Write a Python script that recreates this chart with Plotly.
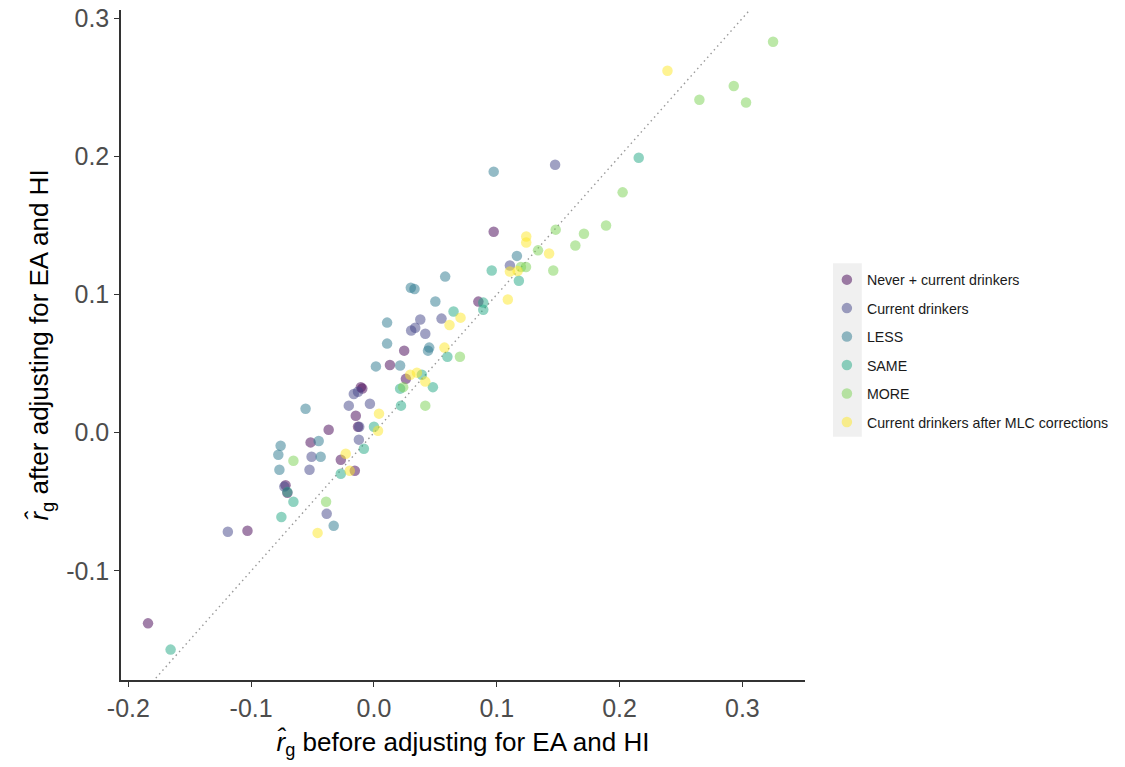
import plotly.graph_objects as go

categories = ["Never + current drinkers", "Current drinkers", "LESS", "SAME", "MORE",
              "Current drinkers after MLC corrections"]
colors = ["#440154", "#414487", "#2A788E", "#22A884", "#7AD151", "#FDE725"]

never_x = [-0.184, -0.103, -0.072, -0.0705, -0.027, -0.0156, -0.0516, -0.0369, -0.013, -0.0148,
           -0.0107, -0.0095, 0.026, 0.013, 0.0246, 0.085, 0.0975]
never_y = [-0.138, -0.071, -0.038, -0.0435, -0.0196, -0.0275, -0.007, 0.0022, 0.0043, 0.0123,
           0.033, 0.032, 0.039, 0.049, 0.0594, 0.0949, 0.1455]

current_x = [-0.119, -0.0385, -0.073, -0.0525, -0.0508, -0.0123, -0.012, -0.0205, -0.0033, -0.0164,
             -0.013, 0.0303, 0.0336, 0.0418, 0.0377, 0.055, 0.1107, 0.1475]
current_y = [-0.0717, -0.0587, -0.039, -0.0268, -0.0174, -0.005, 0.0043, 0.0196, 0.021, 0.028,
             0.0297, 0.074, 0.076, 0.0717, 0.0819, 0.0826, 0.121, 0.194]

less_x = [-0.077, -0.0779, -0.076, -0.0434, -0.045, -0.0328, -0.0557, 0.0016, 0.0213, 0.0107,
          0.0107, 0.030, 0.033, 0.050, 0.045, 0.044, 0.058, 0.0975, 0.1164]
less_y = [-0.0268, -0.016, -0.0094, -0.0174, -0.006, -0.0674, 0.0174, 0.048, 0.0486, 0.0645,
          0.0797, 0.105, 0.104, 0.095, 0.0616, 0.0594, 0.113, 0.189, 0.128]

same_x = [-0.1656, -0.0754, -0.0656, -0.0705, -0.027, -0.0082, 0.0, 0.022, 0.0213, 0.039,
          0.048, 0.0598, 0.0648, 0.089, 0.089, 0.0959, 0.118, 0.2156]
same_y = [-0.157, -0.061, -0.05, -0.043, -0.0297, -0.0116, 0.0043, 0.0196, 0.0319, 0.042,
          0.033, 0.055, 0.0877, 0.0942, 0.089, 0.1174, 0.110, 0.199]

more_x = [-0.0656, -0.039, 0.0238, 0.0418, 0.070, 0.1197, 0.1238, 0.1336, 0.146, 0.148,
          0.164, 0.171, 0.189, 0.2025, 0.265, 0.293, 0.303, 0.325]
more_y = [-0.0203, -0.05, 0.033, 0.0196, 0.055, 0.120, 0.120, 0.132, 0.1174, 0.147,
          0.1355, 0.144, 0.150, 0.174, 0.241, 0.251, 0.239, 0.283]

mlc_x = [-0.0459, -0.0197, -0.023, 0.0033, 0.0041, 0.0295, 0.035, 0.0418, 0.0574, 0.0615,
         0.0705, 0.109, 0.1107, 0.117, 0.1426, 0.124, 0.124, 0.239]
mlc_y = [-0.0725, -0.0275, -0.0152, 0.0014, 0.0138, 0.042, 0.0435, 0.037, 0.0616, 0.078,
         0.0833, 0.0964, 0.1167, 0.117, 0.1297, 0.142, 0.1377, 0.262]

xs = [never_x, current_x, less_x, same_x, more_x, mlc_x]
ys = [never_y, current_y, less_y, same_y, more_y, mlc_y]

tick_vals_x = [-0.2, -0.1, 0.0, 0.1, 0.2, 0.3]
tick_text_x = ["-0.2", "-0.1", "0.0", "0.1", "0.2", "0.3"]
tick_vals_y = [-0.1, 0.0, 0.1, 0.2, 0.3]
tick_text_y = ["-0.1", "0.0", "0.1", "0.2", "0.3"]
identity = [-1.0, 1.0]

FONT = "Liberation Sans, Arial, sans-serif"

fig = go.Figure()
fig.add_trace(go.Scatter(x=identity, y=identity, mode="lines",
                         line=dict(color="#9a9a9a", width=1.4, dash="1.5px,3.5px"),
                         showlegend=False, hoverinfo="skip"))
for name, col, x, y in zip(categories, colors, xs, ys):
    fig.add_trace(go.Scatter(
        x=x, y=y, mode="markers", name=name, legendgroup=name,
        marker=dict(color=col, size=10.5, opacity=0.5, line=dict(width=0)),
    ))

fig.add_shape(type="rect", xref="paper", yref="paper",
              x0=1.041, x1=1.083, y0=0.363, y1=0.622,
              fillcolor="#f0f0f0", line=dict(width=0), layer="below")

fig.update_layout(
    width=1125, height=767,
    margin=dict(l=121, r=320, t=10, b=87, autoexpand=False),
    plot_bgcolor="white", paper_bgcolor="white",
    font=dict(family=FONT, color="#000000"),
    legend=dict(x=1.032, y=0.621, xanchor="left", yanchor="top",
                font=dict(size=14.2, color="#1a1a1a", family=FONT),
                bgcolor="rgba(0,0,0,0)", tracegroupgap=7, itemsizing="trace"),
    xaxis=dict(range=[-0.206, 0.351], tickvals=tick_vals_x, ticktext=tick_text_x,
               automargin=False,
               showgrid=False, zeroline=False, showline=True, linecolor="#333333", linewidth=1.5,
               ticks="outside", ticklen=5, tickcolor="#333333", tickwidth=1.3,
               tickfont=dict(size=25, color="#4d4d4d"),
               title=dict(text="<i>r̂</i><sub>g</sub> before adjusting for EA and HI",
                          font=dict(size=26, color="#000000"), standoff=12)),
    yaxis=dict(range=[-0.179, 0.306], tickvals=tick_vals_y, ticktext=tick_text_y,
               automargin=False,
               showgrid=False, zeroline=False, showline=True, linecolor="#333333", linewidth=1.5,
               ticks="outside", ticklen=5, tickcolor="#333333", tickwidth=1.3,
               tickfont=dict(size=25, color="#4d4d4d"),
               title=dict(text="<i>r̂</i><sub>g</sub> after adjusting for EA and HI",
                          font=dict(size=26, color="#000000"), standoff=10)),
)

fig.write_html("out.html")
